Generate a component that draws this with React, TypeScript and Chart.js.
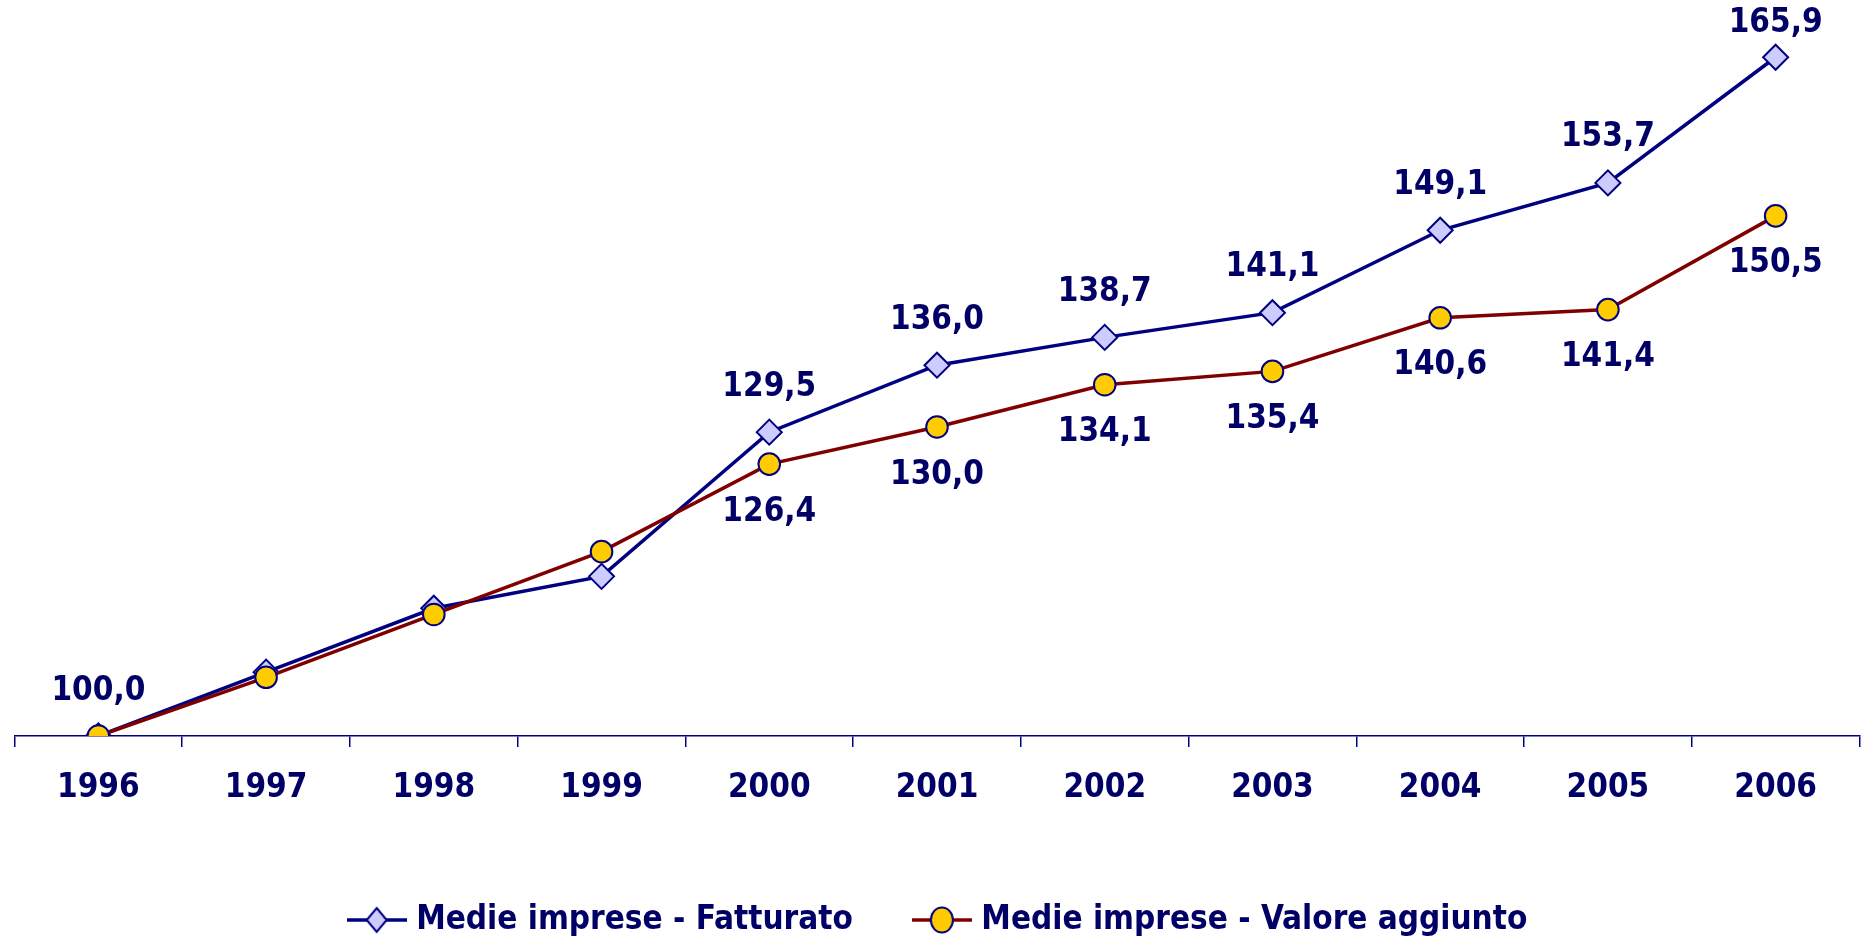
import React, { useEffect, useRef } from "react";
import { Chart, registerables } from "chart.js";

Chart.register(...registerables);

const years = ["1996", "1997", "1998", "1999", "2000", "2001", "2002", "2003", "2004", "2005", "2006"];
const fatturato = [100.0, 106.2, 112.4, 115.5, 129.5, 136.0, 138.7, 141.1, 149.1, 153.7, 165.9];
const valoreAggiunto = [100.0, 105.7, 111.8, 117.9, 126.4, 130.0, 134.1, 135.4, 140.6, 141.4, 150.5];
const fatturatoLabelPos = ["above", null, null, null, "above", "above", "above", "above", "above", "above", "above"];
const valoreLabelPos = [null, null, null, null, "below", "below", "below", "below", "below", "below", "below"];
const seriesNames = ["Medie imprese - Fatturato", "Medie imprese - Valore aggiunto"];

const FONT = '"DejaVu Sans Condensed", "DejaVu Sans", sans-serif';
const TEXT = "#000066";
const NAVY = "#000080";
const DARKRED = "#800000";

function legendSymbol(kind: "diamond" | "circle"): HTMLCanvasElement {
  const c = document.createElement("canvas");
  c.width = 60;
  c.height = 30;
  const g = c.getContext("2d")!;
  g.strokeStyle = kind === "diamond" ? NAVY : DARKRED;
  g.lineWidth = 3.5;
  g.beginPath();
  g.moveTo(0, 15);
  g.lineTo(60, 15);
  g.stroke();
  g.lineWidth = 2;
  g.strokeStyle = NAVY;
  g.beginPath();
  if (kind === "diamond") {
    g.moveTo(30, 3);
    g.lineTo(40, 15);
    g.lineTo(30, 27);
    g.lineTo(20, 15);
    g.closePath();
    g.fillStyle = "#ccccff";
  } else {
    g.ellipse(30, 15, 11, 12.5, 0, 0, Math.PI * 2);
    g.fillStyle = "#ffcc00";
  }
  g.fill();
  g.stroke();
  return c;
}

const fmt = (v: number) => v.toFixed(1).replace(".", ",");

const dataLabelPlugin = {
  id: "dataLabels",
  afterDatasetsDraw(chart: any) {
    const ctx = chart.ctx;
    ctx.save();
    ctx.font = `bold 33px ${FONT}`;
    ctx.fillStyle = TEXT;
    ctx.textAlign = "center";
    ctx.textBaseline = "middle";
    const sets = [
      { idx: 0, values: fatturato, pos: fatturatoLabelPos },
      { idx: 1, values: valoreAggiunto, pos: valoreLabelPos },
    ];
    sets.forEach((s) => {
      const meta = chart.getDatasetMeta(s.idx);
      meta.data.forEach((pt: any, i: number) => {
        const p = s.pos[i];
        if (!p) return;
        let y = p === "above" ? pt.y - 45 : pt.y + 48;
        if (y < 23.5) y = 23.5;
        ctx.fillText(fmt(s.values[i]), pt.x, y);
      });
    });
    ctx.restore();
  },
};

export default function App() {
  const ref = useRef<HTMLCanvasElement>(null);
  useEffect(() => {
    document.body.style.margin = "0";
    document.body.style.overflow = "hidden";
    const symbols = [legendSymbol("diamond"), legendSymbol("circle")];
    const chart = new Chart(ref.current!, {
      type: "line",
      data: {
        labels: years,
        datasets: [
          {
            label: seriesNames[0],
            data: fatturato,
            borderColor: NAVY,
            borderWidth: 3.5,
            pointStyle: "rectRot",
            pointRadius: 12.5,
            pointBackgroundColor: "#ccccff",
            pointBorderColor: NAVY,
            pointBorderWidth: 2,
            tension: 0,
            order: 1,
          },
          {
            label: seriesNames[1],
            data: valoreAggiunto,
            borderColor: DARKRED,
            borderWidth: 3.5,
            pointStyle: "circle",
            pointRadius: 10.8,
            pointBackgroundColor: "#ffcc00",
            pointBorderColor: NAVY,
            pointBorderWidth: 2,
            tension: 0,
            order: 0,
          },
        ],
      },
      options: {
        responsive: false,
        animation: false,
        devicePixelRatio: 1,
        layout: { padding: { left: 12, right: 5, top: 15, bottom: -7.5 } },
        scales: {
          x: {
            offset: true,
            grid: {
              offset: true,
              drawOnChartArea: false,
              drawTicks: true,
              tickLength: 11,
              color: NAVY,
              lineWidth: 1.5,
            },
            border: { color: NAVY, width: 1.5 },
            ticks: {
              color: TEXT,
              font: { family: FONT, size: 33, weight: "bold" },
              padding: 22,
              maxRotation: 0,
            },
            afterFit: (s: any) => {
              s.height = 101.5;
            },
          },
          y: {
            display: false,
            min: 100,
            max: 170,
          },
        },
        plugins: {
          tooltip: { enabled: false },
          legend: {
            position: "bottom",
            labels: {
              usePointStyle: true,
              pointStyleWidth: 46,
              padding: 66,
              color: TEXT,
              font: { family: FONT, size: 33, weight: "bold" },
              generateLabels: () =>
                seriesNames.map((n, i) => ({
                  text: n,
                  fillStyle: "#ffffff",
                  strokeStyle: NAVY,
                  lineWidth: 0,
                  pointStyle: symbols[i],
                  datasetIndex: i,
                  fontColor: TEXT,
                  hidden: false,
                })),
            },
          },
        },
      },
      plugins: [dataLabelPlugin],
    } as any);
    return () => chart.destroy();
  }, []);
  return (
    <div style={{ width: 1874, height: 939 }}>
      <canvas ref={ref} width={1874} height={939} />
    </div>
  );
}
